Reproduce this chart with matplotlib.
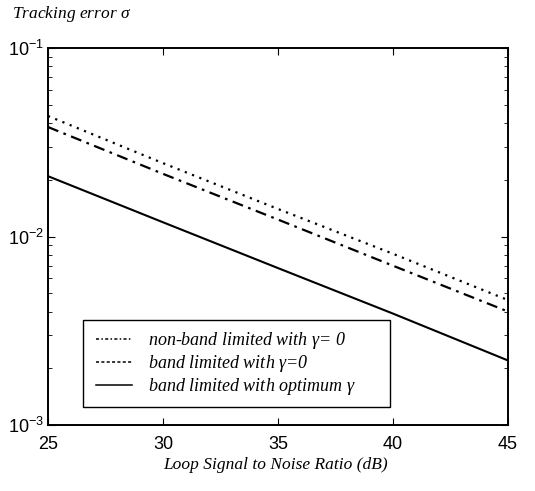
import matplotlib.pyplot as plt
from matplotlib.patches import Rectangle
from matplotlib.ticker import LogLocator, NullFormatter

# Loop SNR (dB) and tracking error
snr_db = [25, 30, 35, 40, 45]
sigma_band_gamma0 = [0.0436, 0.0245, 0.0140, 0.0081, 0.0046]      # dotted (top)
sigma_nonband_gamma0 = [0.0381, 0.0215, 0.0123, 0.0070, 0.0040]   # dash-dot
sigma_band_optimum = [0.0209, 0.0119, 0.0068, 0.0039, 0.0022]     # solid

legend_labels = [r"non-band limited with $\gamma$= 0",
                 r"band limited with $\gamma$=0",
                 r"band limited with optimum $\gamma$"]

plt.rcParams['mathtext.fontset'] = 'custom'
plt.rcParams['mathtext.it'] = 'Liberation Serif:italic'
plt.rcParams['mathtext.rm'] = 'Liberation Sans'

fig = plt.figure(figsize=(5.35, 4.91), dpi=100)
ax = fig.add_axes([0.0897, 0.1344, 0.8598, 0.7678])

l1, = ax.plot(snr_db, sigma_nonband_gamma0, color='black', lw=1.6,
              linestyle=(0, (5, 2.5, 1.2, 2.5)))
l2, = ax.plot(snr_db, sigma_band_gamma0, color='black', lw=1.6,
              linestyle=(0, (1, 2.5)))
l3, = ax.plot(snr_db, sigma_band_optimum, color='black', lw=1.5)

ax.set_yscale('log')
ax.set_xlim(25, 45)
ax.set_ylim(1e-3, 1e-1)
ax.set_xticks([25, 30, 35, 40, 45])
ax.yaxis.set_major_locator(LogLocator(base=10, numticks=5))
ax.yaxis.set_minor_locator(LogLocator(base=10, subs=range(2, 10), numticks=20))
ax.yaxis.set_minor_formatter(NullFormatter())

ax.tick_params(which='both', direction='in', top=True, right=True,
               labelsize=13)
ax.tick_params(axis='x', pad=8)
ax.tick_params(axis='y', pad=3)
ax.tick_params(which='major', length=5)
ax.tick_params(which='minor', length=3)
for lab in ax.get_xticklabels() + ax.get_yticklabels():
    lab.set_family('Liberation Sans')
for sp in ax.spines.values():
    sp.set_linewidth(1.4)

# legend with its own frame (the box in the original has spare room below)
ax.add_patch(Rectangle((0.076, 0.048), 0.667, 0.231, transform=ax.transAxes,
                       fill=False, lw=1.0, color='black', zorder=5))
leg = ax.legend([l1, l2, l3], legend_labels, loc='upper left',
                bbox_to_anchor=(0.078, 0.283), frameon=False, borderpad=0.15,
                handlelength=2.0, handletextpad=0.9, labelspacing=0.12,
                prop={'family': 'Liberation Serif', 'style': 'italic', 'size': 13})
leg.get_lines()[0].set_linestyle((0, (2, 1.5, 1, 1.5)))
leg.get_lines()[1].set_linestyle((0, (2, 1.5)))
for ln in leg.get_lines():
    ln.set_linewidth(1.1)

fig.text(0.022, 0.972, r"Tracking error $\sigma$", family='Liberation Serif',
         style='italic', fontsize=12.5, va='center', ha='left')
fig.text(0.515, 0.052, "Loop Signal to Noise Ratio (dB)", family='Liberation Serif',
         style='italic', fontsize=12.5, va='center', ha='center')

fig.savefig('out.png', dpi=100)
